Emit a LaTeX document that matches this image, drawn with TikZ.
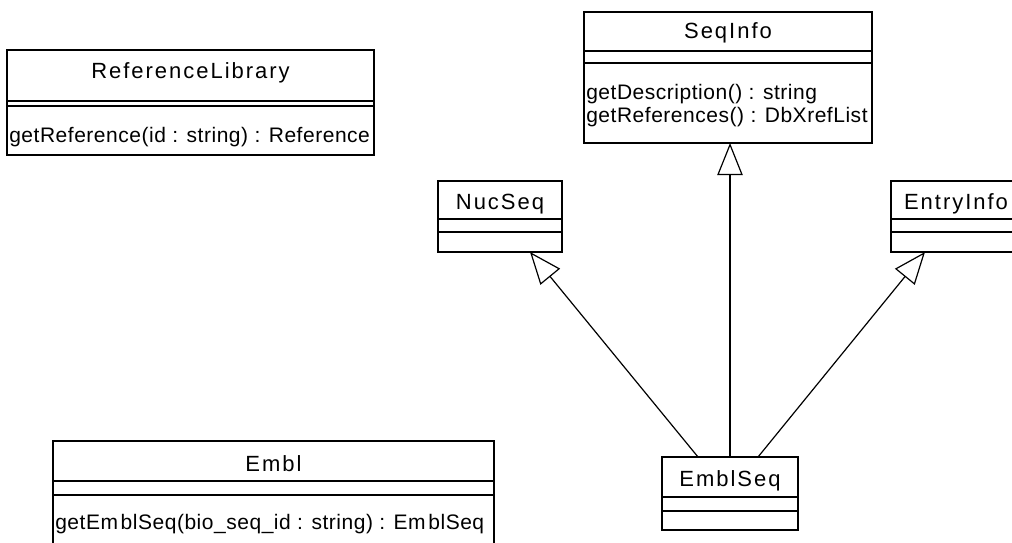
\documentclass[tikz,border=0pt]{standalone}
\usepackage{fontspec}
\setmainfont{Liberation Sans}
\newfontfamily\titlefont[LetterSpace=9]{Liberation Sans}
\newfontfamily\opfont[LetterSpace=2.5]{Liberation Sans}
\usetikzlibrary{fit,calc,arrows.meta}
\begin{document}
\begin{tikzpicture}[x=0.75pt,y=-0.75pt,
  cls/.style={draw, inner sep=0pt, outer sep=0pt, line width=1pt},
  sep/.style={line width=1pt},
  ttl/.style={font=\titlefont\fontsize{16.5}{19}\selectfont, anchor=base, inner sep=0pt},
  op/.style={font=\opfont\fontsize{15.75}{18}\selectfont, anchor=base west, inner sep=0pt},
  inh/.style={-{Triangle[open,length=24pt,width=19pt,line width=0.9pt]}, line width=0.9pt}
]
\useasboundingbox (0,0) rectangle (1012,542);
\clip (0,0) rectangle (1012,542);

% ReferenceLibrary
\node[cls, fit={(7,50) (374,155)}] (rl) {};
\node[ttl] (rlt) at (190.5,79) {ReferenceLibrary};
\draw[sep] (rl.west |- 0,101) -- (rl.east |- 0,101);
\draw[sep] (rl.west |- 0,106) -- (rl.east |- 0,106);
\node[op] (rlo) at (9,142) {getReference(id : string) : Reference};

% SeqInfo
\node[cls, fit={(584,12) (872,143)}] (si) {};
\node[ttl] (sit) at (728,39) {SeqInfo};
\draw[sep] (si.west |- 0,51) -- (si.east |- 0,51);
\draw[sep] (si.west |- 0,63) -- (si.east |- 0,63);
\node[op] (sio1) at (586,99) {getDescription() : string};
\node[op] (sio2) at (586,122) {getReferences() : DbXrefList};

% NucSeq
\node[cls, fit={(438,181) (562,252)}] (ns) {};
\node[ttl] (nst) at (500,209) {NucS\kern1.5pt eq};
\draw[sep] (ns.west |- 0,219) -- (ns.east |- 0,219);
\draw[sep] (ns.west |- 0,232) -- (ns.east |- 0,232);

% EntryInfo
\node[cls, fit={(891,181) (1022,252)}] (ei) {};
\node[ttl] (eit) at (956,209) {EntryInfo};
\draw[sep] (ei.west |- 0,219) -- (ei.east |- 0,219);
\draw[sep] (ei.west |- 0,232) -- (ei.east |- 0,232);

% EmblSeq
\node[cls, fit={(662,457) (798,530)}] (es) {};
\node[ttl] (est) at (730,486) {EmblSeq};
\draw[sep] (es.west |- 0,497) -- (es.east |- 0,497);
\draw[sep] (es.west |- 0,511) -- (es.east |- 0,511);

% Embl
\node[cls, fit={(53,441) (494,552)}] (em) {};
\node[ttl] (emt) at (273.5,471) {Embl};
\draw[sep] (em.west |- 0,481) -- (em.east |- 0,481);
\draw[sep] (em.west |- 0,495) -- (em.east |- 0,495);
\node[op] (emo) at (55,529) {getEm\kern2pt blSeq(bio\_seq\_id : string) : Em\kern2pt blSeq};

% generalizations
\draw[inh] (es.north) -- (es.north |- si.south);
\draw[inh] ($(es.north west)+(36,0)$) -- ($(ns.south west)+(92,0)$);
\draw[inh] ($(es.north west)+(96,0)$) -- ($(ei.south west)+(34,0)$);
\end{tikzpicture}
\end{document}
